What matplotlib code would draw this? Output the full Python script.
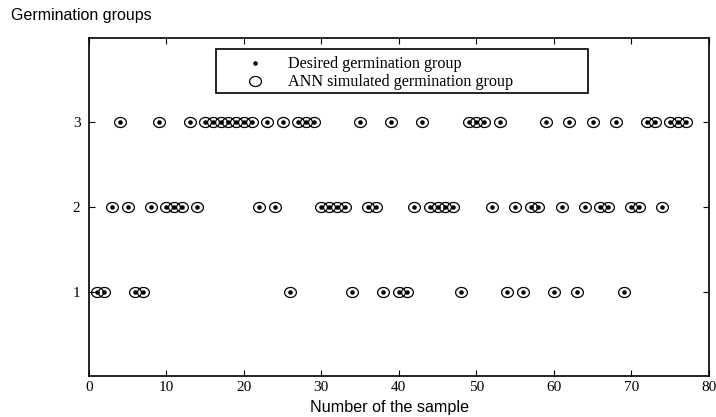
import matplotlib
matplotlib.use("Agg")
import matplotlib.pyplot as plt
import numpy as np
from matplotlib.path import Path
from matplotlib.patches import Rectangle

# group of each sample, samples numbered 1..77
desired = [1, 1, 2, 3, 2, 1, 1, 2, 3, 2,
           2, 2, 3, 2, 3, 3, 3, 3, 3, 3,
           3, 2, 3, 2, 3, 1, 3, 3, 3, 2,
           2, 2, 2, 1, 3, 2, 2, 1, 3, 1,
           1, 2, 3, 2, 2, 2, 2, 1, 3, 3,
           3, 2, 3, 1, 2, 1, 2, 2, 3, 1,
           2, 3, 1, 2, 3, 2, 2, 3, 1, 2,
           2, 3, 3, 2, 3, 3, 3]
simulated = list(desired)  # ANN output matches every sample
samples = list(range(1, len(desired) + 1))

xticks = [0, 10, 20, 30, 40, 50, 60, 70, 80]
yticks = [1, 2, 3]

# slightly flattened open circle like the original figure
t = np.linspace(0, 2 * np.pi, 60)
ellipse = Path(np.column_stack([np.cos(t), 0.85 * np.sin(t)]), closed=True)

fig = plt.figure(figsize=(7.16, 4.17), dpi=100)
ax = fig.add_axes([0.124, 0.098, 0.866, 0.811])

ax.plot(samples, desired, linestyle='none', marker='.', color='black',
        markersize=4.5, label='Desired germination group')
ax.plot(samples, simulated, linestyle='none', marker=ellipse, markerfacecolor='none',
        markeredgecolor='black', markeredgewidth=0.9, markersize=8.5,
        label='ANN simulated germination group')

ax.set_xlim(0, 80)
ax.set_ylim(0, 4)
ax.set_xticks(xticks)
ax.set_yticks(yticks)
ax.tick_params(direction='in', top=True, right=True, length=4, width=0.8,
               labelsize=11)
ax.tick_params(axis='y', pad=6)
for lab in ax.get_xticklabels() + ax.get_yticklabels():
    lab.set_family('Liberation Serif')
for s in ax.spines.values():
    s.set_linewidth(1.2)

ax.set_xlabel('Number of the sample', family='Liberation Sans', fontsize=11.6,
              labelpad=0)
ax.xaxis.set_label_coords(0.485, -0.072)
fig.text(0.016, 0.962, 'Germination groups', family='Liberation Sans',
         fontsize=11.5, ha='left', va='center')

# legend box drawn separately, wider than its text as in the original
ax.add_patch(Rectangle((0.205, 0.837), 0.6, 0.13, transform=ax.transAxes,
                       facecolor='white', edgecolor='black', linewidth=1.2,
                       zorder=4))
leg = ax.legend(loc='upper left', bbox_to_anchor=(0.255, 0.946),
                prop={'family': 'Liberation Serif', 'size': 11.6},
                frameon=False, borderpad=0, labelspacing=0.12,
                handletextpad=1.55, handlelength=1.0, borderaxespad=0)
leg.set_zorder(5)

fig.savefig('out.png', dpi=100)
